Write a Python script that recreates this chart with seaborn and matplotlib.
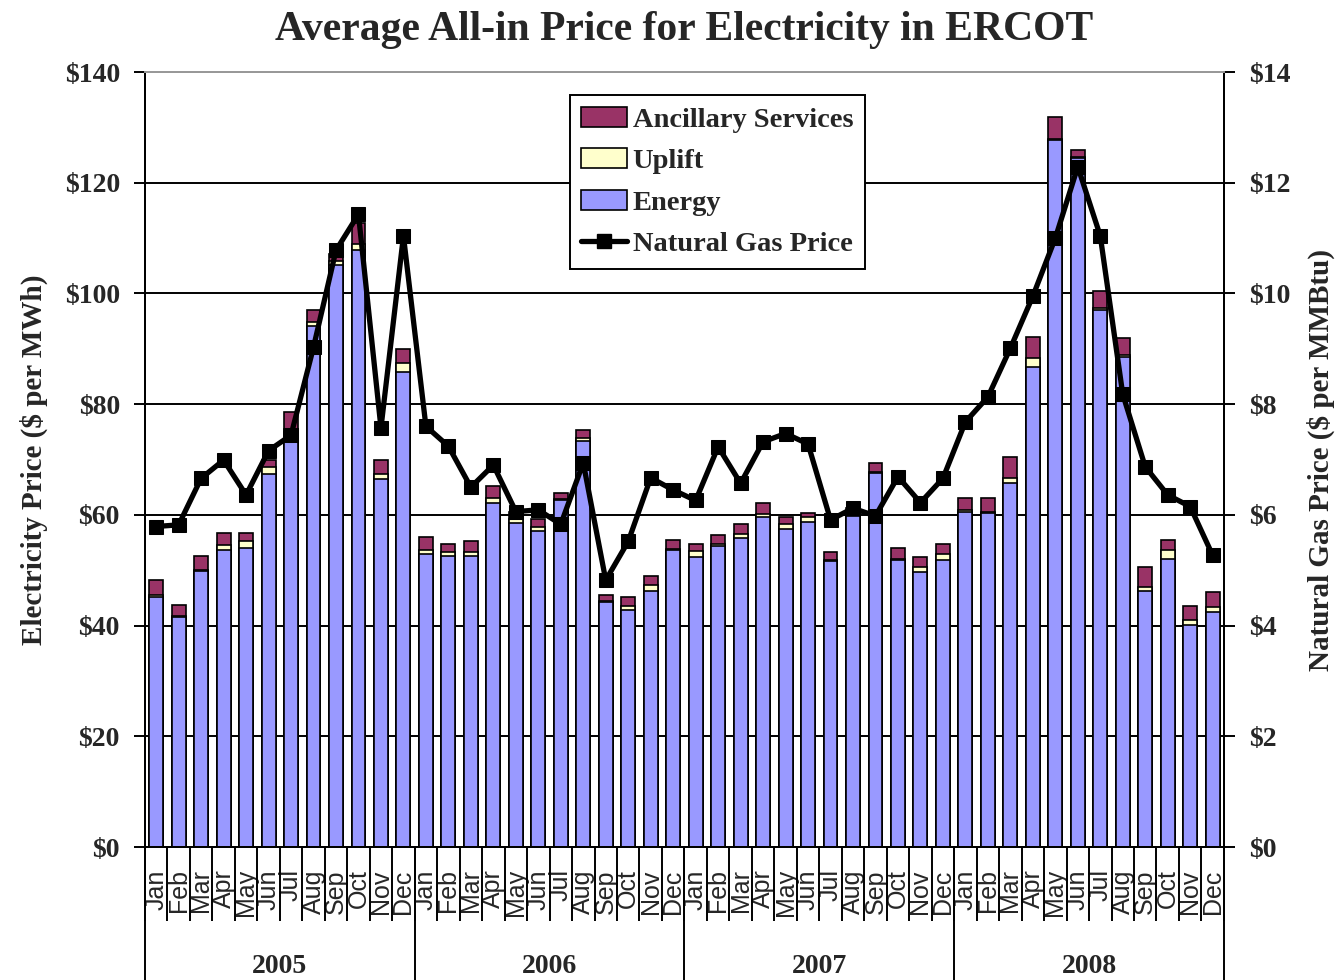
import numpy as np
import pandas as pd
import matplotlib
matplotlib.use("Agg")
import matplotlib.pyplot as plt
from matplotlib.patches import Patch
from matplotlib.lines import Line2D
import seaborn as sns

# --- data ---
years = ["2005", "2006", "2007", "2008"]
months = ["Jan", "Feb", "Mar", "Apr", "May", "Jun",
          "Jul", "Aug", "Sep", "Oct", "Nov", "Dec"]

energy = [45.2, 41.6, 49.9, 53.6, 54.1, 67.3, 75.0, 94.1, 105.1, 107.8, 66.5, 85.9,
          52.9, 52.6, 52.6, 62.2, 58.6, 57.1, 62.7, 73.4, 44.3, 42.8, 46.3, 53.6,
          52.4, 54.4, 55.9, 59.6, 57.5, 58.8, 51.7, 59.8, 67.5, 51.8, 49.7, 51.8,
          60.6, 60.3, 65.7, 86.8, 127.7, 124.4, 97.1, 88.6, 46.3, 52.0, 40.1, 42.5]
uplift = [0.3, 0.2, 0.2, 0.9, 1.1, 1.3, 0.6, 0.8, 0.8, 1.1, 0.8, 1.6,
          0.7, 0.7, 0.7, 0.8, 0.7, 0.8, 0.2, 0.4, 0.2, 0.8, 1.0, 0.3,
          1.1, 0.3, 0.7, 0.6, 0.8, 0.8, 0.2, 0.3, 0.2, 0.3, 0.8, 1.1,
          0.2, 0.3, 0.9, 1.5, 0.2, 0.2, 0.2, 0.2, 0.7, 1.6, 0.9, 0.8]
ancillary = [2.7, 1.9, 2.5, 2.3, 1.6, 1.3, 2.9, 2.1, 1.3, 3.8, 2.6, 2.4,
             2.4, 1.5, 1.9, 2.2, 1.3, 1.4, 1.1, 1.5, 1.0, 1.6, 1.7, 1.6,
             1.3, 1.7, 1.7, 2.0, 1.3, 0.8, 1.4, 1.2, 1.6, 2.0, 1.9, 1.9,
             2.2, 2.4, 3.8, 3.9, 3.9, 1.4, 3.1, 3.1, 3.5, 1.9, 2.6, 2.8]
gas_price = [5.79, 5.82, 6.66, 6.99, 6.36, 7.16, 7.44, 9.03, 10.78, 11.43, 7.57, 11.04,
             7.60, 7.24, 6.50, 6.90, 6.06, 6.09, 5.83, 6.94, 4.82, 5.52, 6.67, 6.45,
             6.26, 7.23, 6.57, 7.32, 7.47, 7.28, 5.91, 6.12, 5.98, 6.69, 6.22, 6.66,
             7.68, 8.13, 9.01, 9.95, 11.00, 12.29, 11.04, 8.18, 6.87, 6.36, 6.15, 5.27]

periods = [f"{y}-{m}" for y in years for m in months]
df = pd.DataFrame({"period": periods, "energy": energy,
                   "uplift": uplift, "ancillary": ancillary, "gas": gas_price})
df["energy_uplift"] = df["energy"] + df["uplift"]
df["total"] = df["energy_uplift"] + df["ancillary"]
df["pos"] = np.arange(len(df))

c_energy = "#9999FF"
c_uplift = "#FFFFCC"
c_anc = "#993366"

sns.set_theme(style="white")
plt.rcParams["font.family"] = ["Liberation Serif", "DejaVu Serif"]
plt.rcParams["font.weight"] = "bold"

fig = plt.figure(figsize=(13.42, 9.8), dpi=100)
ax = fig.add_axes([0.108, 0.1357, 0.804, 0.7908])

bar_kw = dict(x="period", order=periods, width=0.62, saturation=1,
              edgecolor="black", linewidth=1.2, ax=ax, zorder=2)
# layered totals give the stacked look
sns.barplot(data=df, y="total", color=c_anc, **bar_kw)
sns.barplot(data=df, y="energy_uplift", color=c_uplift, **bar_kw)
sns.barplot(data=df, y="energy", color=c_energy, **bar_kw)

ax.set_ylim(0, 140)
ax.set_xlim(-0.5, len(df) - 0.5)
ax.set_yticks(np.arange(0, 141, 20))
ax.set_yticklabels([f"${v}" for v in range(0, 141, 20)], fontsize=20, fontweight="bold")
ax.yaxis.grid(True, color="black", linewidth=1.4)
ax.set_axisbelow(True)
ax.set_ylabel("Electricity Price ($ per MWh)", fontsize=21, fontweight="bold", labelpad=12)
ax.set_xlabel("")

ax2 = ax.twinx()
sns.lineplot(data=df, x="pos", y="gas", ax=ax2, color="black", linewidth=3.8,
             marker="s", markersize=10, markeredgecolor="black", zorder=5)
ax2.set_ylim(0, 14)
ax2.set_yticks(np.arange(0, 15, 2))
ax2.set_yticklabels([f"${v}" for v in range(0, 15, 2)], fontsize=20, fontweight="bold")
ax2.set_ylabel("Natural Gas Price ($ per MMBtu)", fontsize=21, fontweight="bold",
               rotation=90, labelpad=12)
ax2.set_xlabel("")

for a in (ax, ax2):
    for s in ("left", "right", "bottom"):
        a.spines[s].set_color("black")
        a.spines[s].set_linewidth(1.4)
    a.spines["top"].set_color("#999999")
    a.spines["top"].set_linewidth(1.4)
ax.tick_params(axis="y", which="major", left=True, length=8, width=1.4, color="black", pad=10)
ax2.tick_params(axis="y", which="major", right=True, length=8, width=1.4, color="black", pad=10)

# month labels and separators
ax.set_xticks(df["pos"])
ax.set_xticklabels(months * len(years), rotation=90, fontsize=18,
                   family="Liberation Sans", fontweight="normal")
ax.set_xticks(np.arange(len(df) + 1) - 0.5, minor=True)
ax.tick_params(axis="x", which="major", length=0, pad=16)
ax.tick_params(axis="x", which="minor", bottom=True, length=53, width=1.4, color="black")

# year labels and year separators
sec = ax.secondary_xaxis("bottom")
sec.set_xticks(np.arange(0, len(df) + 1, 12) - 0.5)
sec.set_xticklabels([""] * (len(years) + 1))
sec.set_xticks(np.arange(len(years)) * 12 + 5.5, labels=years, minor=True)
sec.tick_params(axis="x", which="major", length=97, width=1.4, color="black")
sec.tick_params(axis="x", which="minor", length=0, pad=77, labelsize=20)
sec.spines["bottom"].set_visible(False)
for t in sec.get_xticklabels(minor=True):
    t.set_fontweight("bold")

ax.set_title("Average All-in Price for Electricity in ERCOT",
             fontsize=30, fontweight="bold", pad=23)

handles = [Patch(facecolor=c_anc, edgecolor="black", linewidth=1.2, label="Ancillary Services"),
           Patch(facecolor=c_uplift, edgecolor="black", linewidth=1.2, label="Uplift"),
           Patch(facecolor=c_energy, edgecolor="black", linewidth=1.2, label="Energy"),
           Line2D([], [], color="black", linewidth=3.8, marker="s", markersize=10,
                  label="Natural Gas Price")]
leg = ax2.legend(handles=handles, loc="upper left", bbox_to_anchor=(0.394, 0.970),
                 borderaxespad=0, fontsize=20.5, frameon=True, fancybox=False,
                 handlelength=1.6, handleheight=0.7, handletextpad=0.2,
                 labelspacing=0.55, borderpad=0.4, framealpha=1)
leg.get_frame().set_edgecolor("black")
leg.get_frame().set_linewidth(1.4)

fig.savefig("out.png", dpi=100)
